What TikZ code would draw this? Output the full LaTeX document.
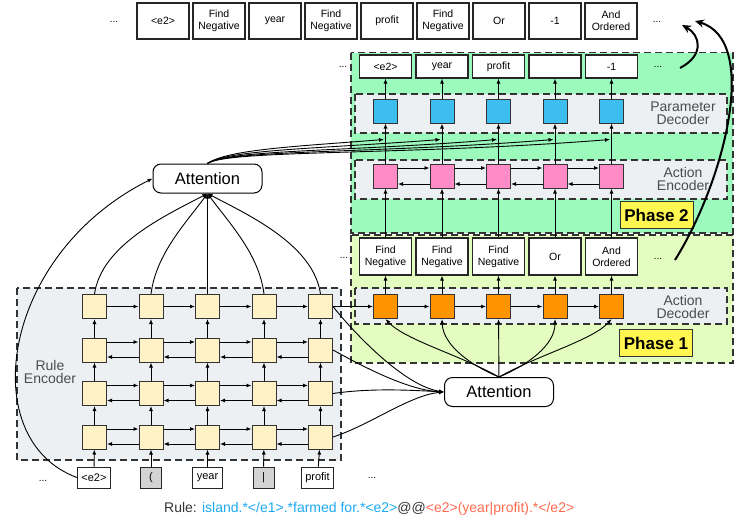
\documentclass[tikz,border=0pt]{standalone}
\usepackage{fontspec}
\setmainfont{Liberation Sans}
\usepackage{xcolor}
\usetikzlibrary{arrows.meta,calc,positioning,shapes}

\definecolor{phtwo}{HTML}{9CFABD}
\definecolor{phone}{HTML}{E3FCBF}
\definecolor{panelgray}{HTML}{EDF0F2}
\definecolor{ruleyellow}{HTML}{FFF2C6}
\definecolor{actpink}{HTML}{FF8CC6}
\definecolor{parblue}{HTML}{3DBEF0}
\definecolor{decorange}{HTML}{FF9300}
\definecolor{tagyellow}{HTML}{FFF64F}
\definecolor{ruleblue}{HTML}{1CA9F2}
\definecolor{rulered}{HTML}{FF6B4F}
\definecolor{inputgray}{HTML}{D3D3D3}

\begin{document}
\begin{tikzpicture}[x=1pt,y=-1pt,>={Latex[length=5pt,width=4pt]},font=\fontsize{10.5}{12}\selectfont]
    \tikzstyle{cell}=[rectangle, draw=black!80, line width=1pt, minimum size=24pt, inner sep=0pt]
    \tikzstyle{word}=[rectangle, draw=black!85, line width=1.1pt, fill=white, minimum width=52pt, align=center, inner sep=1pt]
    \tikzstyle{inp}=[rectangle, draw=black!85, line width=1pt, fill=white, minimum height=21pt, minimum width=21pt, inner xsep=4pt, font=\fontsize{11}{12}\selectfont]
    \tikzstyle{panel}=[draw=black!80, dash pattern=on 7pt off 4pt, line width=1.4pt]
    \tikzstyle{paneltext}=[text=black!70, align=center, font=\fontsize{14}{13.5}\selectfont]
    \tikzstyle{phase}=[draw=black!80, fill=tagyellow, line width=1pt, minimum width=73pt, minimum height=27pt, font=\fontsize{17}{17}\selectfont\bfseries]
    \tikzstyle{attn}=[draw, line width=1pt, rounded corners=8pt, minimum width=109pt, minimum height=29pt, font=\fontsize{16.5}{17}\selectfont]
    \tikzstyle{dots}=[inner sep=0pt, font=\fontsize{10}{10}\selectfont]
    \tikzstyle{link}=[->, line width=0.9pt]
    \tikzstyle{bigarrow}=[-{Stealth[length=9pt,width=8pt]}, line width=2pt]

    \useasboundingbox (0,0) rectangle (735,523);

    \draw[panel, fill=phtwo] (351,52.5) rectangle (733,233);
    \draw[panel, fill=phone] (351,235) rectangle (733,363);
    \draw[panel, fill=panelgray] (355,94) rectangle (727,133);
    \draw[panel, fill=panelgray] (355,160) rectangle (727,199);
    \draw[panel, fill=panelgray] (355,288) rectangle (727,324);
    \draw[panel, fill=panelgray] (17,288) rectangle (341,460);

    \node[paneltext] (pdtext) at (683,113) {Parameter\\Decoder};
    \node[paneltext] (aetext) at (683,179) {Action\\Encoder};
    \node[paneltext] (adtext) at (683,307) {Action\\Decoder};
    \node[paneltext] (retext) at (50,372) {Rule\\Encoder};

    \node[phase] (ph2) at (656.5,215) {Phase 2};
    \node[phase] (ph1) at (656,343) {Phase 1};

    \foreach \k/\x/\t in {1/163/{<e2>},2/219/{Find\\Negative},3/275/year,4/331/{Find\\Negative},5/387/profit,6/443/{Find\\Negative},7/499/Or,8/555/-1,9/611/{And\\Ordered}}
        \node[word, minimum height=36pt] (top\k) at (\x,21) {\t};

    \foreach \i/\x/\t/\s in {1/385.5/{<e2>}/{Find\\Negative},2/442/year/{Find\\Negative},3/498.5/profit/{Find\\Negative},4/555/{}/Or,5/611.5/-1/{And\\Ordered}} {
        \node[word, minimum height=23pt] (po\i) at (\x,66.5) {\t};
        \node[cell, fill=parblue] (pd\i) at (\x,111) {};
        \node[cell, fill=actpink] (ae\i) at (\x,176) {};
        \node[word, minimum height=37pt] (ao\i) at (\x,256.5) {\s};
        \node[cell, fill=decorange] (ad\i) at (\x,306.5) {};
    }

    \foreach \r/\y in {1/306.5,2/350,3/393.5,4/437}
        \foreach \c/\x in {1/94.5,2/151,3/207.5,4/264,5/320.5}
            \node[cell, fill=ruleyellow] (g\r\c) at (\x,\y) {};

    \node[inp] (in1) at (94,477.5) {<e2>};
    \node[inp, fill=inputgray] (in2) at (151,477.5) {(};
    \node[inp] (in3) at (207.5,477.5) {year};
    \node[inp, fill=inputgray] (in4) at (263.5,477.5) {|};
    \node[inp] (in5) at (317.5,477.5) {profit};

    \node[attn] (attnr) at (207.5,178.5) {Attention};
    \node[attn] (attna) at (499,392) {Attention};

    \node[dots] (dtop1) at (114,22) {...};
    \node[dots] (dtop2) at (657,22) {...};
    \node[dots] (dpo1) at (343,67) {...};
    \node[dots] (dpo2) at (658,67) {...};
    \node[dots] (dao1) at (344,258) {...};
    \node[dots] (dao2) at (658,259) {...};
    \node[dots] (din1) at (43,481) {...};
    \node[dots] (din2) at (372,478) {...};

    \node[anchor=base west, inner sep=0pt, text=black!80, font=\fontsize{14}{14}\selectfont] (rule) at (164,512.5)
        {Rule: \textcolor{ruleblue}{island.*</e1>.*farmed for.*<e2>}@@\textcolor{rulered}{<e2>(year|profit).*</e2>}};

    % rule encoder
    \foreach \c in {1,...,5} {
        \draw[link] (in\c) -- (g4\c);
        \foreach \r/\s in {4/3,3/2,2/1}
            \draw[link] (g\r\c) -- (g\s\c);
    }
    \foreach \c/\d in {1/2,2/3,3/4,4/5} {
        \draw[link] (g1\c) -- (g1\d);
        \foreach \r in {2,3,4} {
            \draw[link] ($(g\r\c.east)+(0,-8)$) -- ($(g\r\d.west)+(0,-8)$);
            \draw[link] ($(g\r\d.west)+(0,7)$) -- ($(g\r\c.east)+(0,7)$);
        }
    }

    \draw[link] (g11.north) .. controls +(7,-49) and +(-42,22) .. (attnr.south);
    \draw[link] (g12.north) .. controls +(5,-40) and +(-22,30) .. (attnr.south);
    \draw[link] (g13) -- (attnr);
    \draw[link] (g14.north) .. controls +(-5,-40) and +(22,30) .. (attnr.south);
    \draw[link] (g15.north) .. controls +(-7,-49) and +(42,22) .. (attnr.south);
    \draw[link] (in1.west) .. controls (-25,440) and (0,255) .. (attnr.west);

    % action decoder
    \draw[link] (g15) -- (ad1);
    \foreach \i/\j in {1/2,2/3,3/4,4/5} {
        \draw[link] (ad\i) -- (ad\j);
        \draw[link] ($(ae\i.east)+(0,-8)$) -- ($(ae\j.west)+(0,-8)$);
        \draw[link] ($(ae\j.west)+(0,8)$) -- ($(ae\i.east)+(0,8)$);
    }
    \foreach \i in {1,...,5} {
        \draw[link] (ad\i) -- (ao\i);
        \draw[link] (ao\i) -- (ae\i);
        \draw[link] (ae\i) -- (pd\i);
        \draw[link] (pd\i) -- (po\i);
    }

    \draw[link] (g15.east) .. controls (345,322) and (400,385) .. (attna.west);
    \draw[link] (g25.east) .. controls (355,362) and (405,390) .. (attna.west);
    \draw[link] (g35.east) .. controls (370,388) and (410,390) .. (attna.west);
    \draw[link] (g45.east) .. controls (370,425) and (410,395) .. (attna.west);

    \draw[link] (attna.north) .. controls (460,355) and (405,340) .. (ad1.south);
    \draw[link] (attna.north) .. controls (470,365) and (443,345) .. (ad2.south);
    \draw[link] (attna) -- (ad3);
    \draw[link] (attna.north) .. controls (528,365) and (555,345) .. (ad4.south);
    \draw[link] (attna.north) .. controls (538,355) and (593,340) .. (ad5.south);

    % parameter decoder
    \foreach \i/\dx/\dy in {1/-89/7,2/-117/9,3/-145/12,4/-174/14,5/-202/16}
        \draw[link] (attnr.north) .. controls +(20,-14) and +(\dx,\dy) .. ($(pd\i.south)+(-1.5,16)$);

    \coordinate (p2from) at (680,68);
    \coordinate (p2to) at (682,25);
    \coordinate (p1from) at (675,260);
    \coordinate (p1to) at (695,21);
    \draw[bigarrow] (p2from) .. controls (705,55) and (700,35) .. (p2to);
    \draw[bigarrow] (p1from) .. controls (725,180) and (760,40) .. (p1to);
\end{tikzpicture}
\end{document}
